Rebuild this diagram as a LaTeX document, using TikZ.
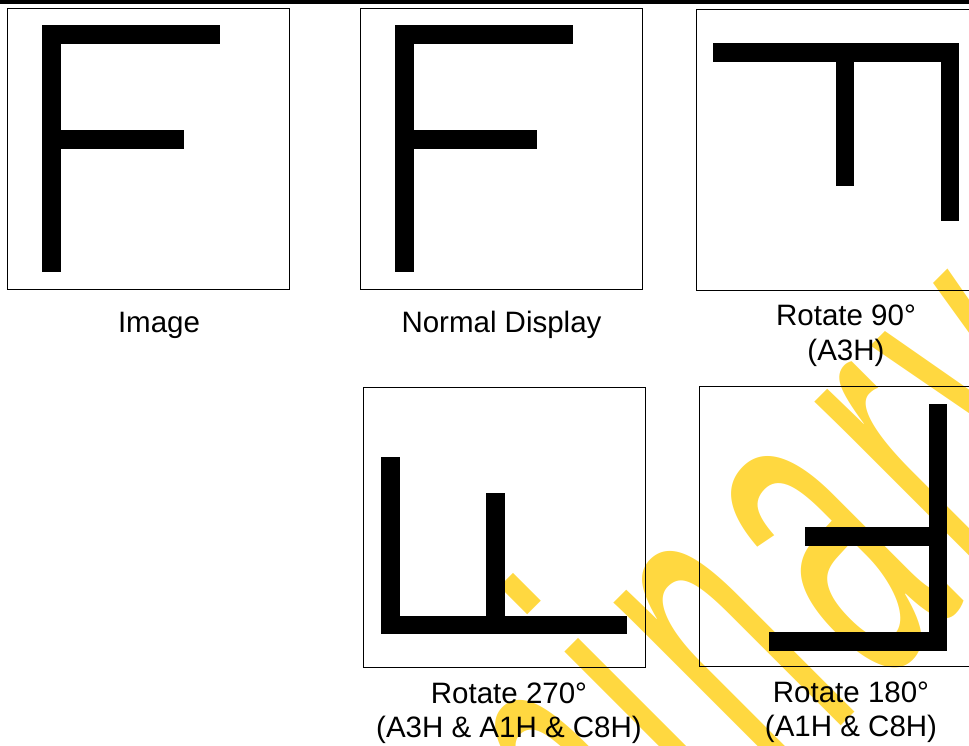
\documentclass[tikz,border=0pt]{standalone}
\usepackage{fontspec}
\setmainfont{Liberation Sans}
\usetikzlibrary{positioning}
\definecolor{wmyellow}{RGB}{255,216,64}
\newcommand{\wsp}{\hspace{20pt}}

\begin{document}
\begin{tikzpicture}[x=1pt,y=-1pt,
  frame/.style={draw,line width=1pt,minimum width=282pt,minimum height=280pt},
  bar/.style={fill=black},
  lbl/.style={font=\fontsize{29.5}{35}\selectfont,anchor=base,inner sep=0pt},
  wm/.style={text=wmyellow,font=\fontsize{220}{220}\selectfont,
             anchor=base west,inner sep=0pt,rotate=45,yscale=2.13}
]
\useasboundingbox (0,0) rectangle (969,746);
% Watermark
\begin{scope}
  \clip (0,0) rectangle (969,746);
  \node[wm] (stamp) at (204,1363)
    {P\wsp r\wsp e\wsp l\wsp i\wsp m\wsp i\wsp n\wsp a\wsp r\wsp y};
\end{scope}
% Header rule
\fill (0,0) rectangle (969,4.5);
% Frames
\node[frame] (img)  at (148.3,149) {};
\node[frame] (norm) at (501.3,149) {};
\node[frame] (r90)  at (837,150) {};
\node[frame] (r270) at (504.2,527.7) {};
\node[frame] (r180) at (840.2,526.7) {};
% Image
\fill[bar] (42.3,25) rectangle (61,271.7);
\fill[bar] (42.3,25) rectangle (219.7,44);
\fill[bar] (61,130.3) rectangle (184.3,149.3);
% Normal display
\fill[bar] (395.3,25) rectangle (414,271.7);
\fill[bar] (395.3,25) rectangle (572.7,44);
\fill[bar] (414,130.3) rectangle (537.3,149.3);
% Rotate 90
\fill[bar] (712.7,43.3) rectangle (959.3,62.3);
\fill[bar] (940.7,43.3) rectangle (959.3,221);
\fill[bar] (835.7,62.3) rectangle (854.3,185.7);
% Rotate 270
\fill[bar] (381,457) rectangle (400,634.3);
\fill[bar] (381,615.7) rectangle (627.3,634.3);
\fill[bar] (486,492.7) rectangle (504.7,615.7);
% Rotate 180
\fill[bar] (929,404) rectangle (947.3,650.7);
\fill[bar] (769.3,632.3) rectangle (947.3,650.7);
\fill[bar] (804.7,526.7) rectangle (929,545.7);
% Labels
\node[lbl] (imgtxt)  at (159,332) {Image};
\node[lbl] (normtxt) at (501.5,332) {Normal Display};
\node[lbl] (r90a)  at (846,325) {Rotate 90°};
\node[lbl] (r90b)  at (846,360) {(A3H)};
\node[lbl] (r270a) at (509,703) {Rotate 270°};
\node[lbl] (r270b) at (509,737) {(A3H \& A1H \& C8H)};
\node[lbl] (r180a) at (851,702) {Rotate 180°};
\node[lbl] (r180b) at (851,736) {(A1H \& C8H)};
\end{tikzpicture}
\end{document}
